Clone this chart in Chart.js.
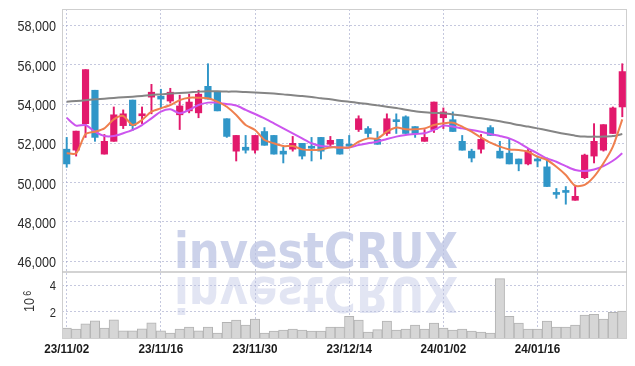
<!DOCTYPE html>
<html>
<head>
<meta charset="utf-8">
<script src="https://cdn.jsdelivr.net/npm/chart.js@4.4.1/dist/chart.umd.min.js"></script>
<style>
  html, body { margin: 0; padding: 0; background: #fff; }
  #wrap { width: 635px; height: 366px; }
</style>
</head>
<body>
<div id="wrap"><canvas id="chart" width="635" height="366"></canvas></div>
<script>
// ── data (daily candles, KRW) ──
const dates = [
  '23/11/02','23/11/03','23/11/06','23/11/07','23/11/08','23/11/09','23/11/10','23/11/13','23/11/14','23/11/15',
  '23/11/16','23/11/17','23/11/20','23/11/21','23/11/22','23/11/23','23/11/24','23/11/27','23/11/28','23/11/29',
  '23/11/30','23/12/01','23/12/04','23/12/05','23/12/06','23/12/07','23/12/08','23/12/11','23/12/12','23/12/13',
  '23/12/14','23/12/15','23/12/18','23/12/19','23/12/20','23/12/21','23/12/22','23/12/26','23/12/27','23/12/28',
  '24/01/02','24/01/03','24/01/04','24/01/05','24/01/08','24/01/09','24/01/10','24/01/11','24/01/12','24/01/15',
  '24/01/16','24/01/17','24/01/18','24/01/19','24/01/22','24/01/23','24/01/24','24/01/25','24/01/26','24/01/29'
];
const opens = [
  51700, 51650, 53000, 54700, 51450, 52100, 52900, 54200, 53400, 54350,
  54400, 54150, 53450, 53650, 53550, 54900, 54600, 53250, 51600, 51800,
  51650, 52600, 52400, 51600, 51700, 52000, 51800, 52300, 51950, 52200,
  51900, 52700, 52750, 52200, 52500, 53150, 53350, 52850, 52100, 52700,
  53300, 53200, 52100, 51600, 51700, 52800, 51600, 51500, 51200, 50950,
  51200, 50800, 49450, 49550, 49100, 50250, 51350, 51650, 52500, 53850
];
const highs = [
  52300, 52620, 55750, 54700, 52450, 53850, 53700, 54200, 53850, 55000,
  54750, 54800, 54450, 54500, 54700, 56050, 54600, 53250, 52400, 52400,
  52400, 52800, 52400, 51800, 52350, 52000, 52300, 52300, 52350, 52200,
  52400, 53400, 52850, 52600, 53500, 53500, 53400, 52850, 52700, 54100,
  53800, 53600, 52400, 51700, 52450, 52900, 52100, 52200, 51200, 51700,
  51350, 51250, 49700, 49800, 49850, 51450, 53000, 52950, 53850, 56050
];
const lows = [
  50780, 51350, 52300, 52100, 51450, 52100, 52750, 52650, 53000, 53500,
  53800, 54050, 52700, 53550, 53300, 54250, 53650, 52300, 51100, 51500,
  51500, 51900, 51450, 51000, 51600, 51200, 51100, 51200, 51800, 51450,
  51850, 52600, 52300, 51950, 52400, 52500, 52500, 52300, 52100, 52550,
  52750, 52600, 51650, 51050, 51500, 52400, 51250, 50950, 50600, 50900,
  50800, 49800, 49200, 48900, 49100, 50200, 51000, 51600, 52500, 53350
];
const closes = [
  50950, 52620, 55750, 52300, 52100, 53450, 53500, 52900, 53500, 54600,
  54250, 54600, 53900, 54100, 54500, 54250, 53650, 52350, 52400, 51650,
  52400, 51900, 51450, 51450, 52000, 51350, 51750, 51600, 52150, 51450,
  51850, 53250, 52500, 51950, 53250, 53100, 52500, 52500, 52300, 54100,
  53600, 52600, 51650, 51250, 52200, 52400, 51250, 50950, 50950, 51600,
  51100, 49800, 49400, 49500, 49300, 51400, 52100, 52950, 53800, 55650
];
const ma5 = [
  51490, 51490, 52470, 52590, 52760, 53220, 53390, 52930, 53190, 53610,
  53780, 53950, 54200, 54320, 54320, 54290, 54120, 53860, 53440, 52930,
  52680, 52170, 52000, 51860, 51860, 51690, 51660, 51690, 51790, 51790,
  51780, 52080, 52250, 52240, 52590, 52800, 52710, 52710, 52760, 52930,
  53020, 53050, 52850, 52590, 52300, 52030, 51830, 51690, 51660, 51570,
  51320, 51150, 50810, 50390, 49840, 49880, 50300, 50980, 51830, 53220
];
const ma20 = [
  53300, 52900, 52930, 52590, 52370, 52370, 52510, 52680, 52930, 53270,
  53610, 53730, 53530, 53700, 53950, 54070, 54070, 54000, 53920, 53700,
  53490, 53270, 53020, 52760, 52510, 52250, 52000, 51860, 51830, 51780,
  51780, 51910, 52000, 52080, 52220, 52340, 52420, 52470, 52510, 52680,
  52900, 52850, 52760, 52680, 52590, 52470, 52370, 52250, 52030, 51740,
  51490, 51230, 51060, 50840, 50640, 50590, 50670, 50840, 51110, 51490
];
const ma60 = [
  54120, 54150, 54190, 54240, 54270, 54310, 54340, 54370, 54410, 54460,
  54490, 54530, 54560, 54590, 54630, 54650, 54650, 54630, 54630, 54610,
  54590, 54560, 54530, 54490, 54440, 54410, 54360, 54290, 54240, 54170,
  54120, 54050, 54000, 53930, 53860, 53800, 53710, 53630, 53580, 53540,
  53530, 53470, 53410, 53340, 53270, 53200, 53120, 53030, 52930, 52850,
  52760, 52660, 52560, 52470, 52390, 52340, 52340, 52340, 52370, 52470
];
// volume in millions of shares
const volumes = [
  0.75, 0.68, 1.08, 1.30, 0.75, 1.38, 0.55, 0.55, 0.70, 1.15,
  0.55, 0.38, 0.68, 0.83, 0.55, 0.83, 0.38, 1.18, 1.35, 0.98,
  1.43, 0.38, 0.53, 0.60, 0.68, 0.60, 0.53, 0.53, 0.83, 0.83,
  1.65, 1.35, 0.45, 0.63, 1.28, 0.60, 0.68, 0.98, 0.68, 1.13,
  0.75, 0.60, 0.68, 0.53, 0.45, 0.38, 4.50, 1.65, 1.13, 0.68,
  0.68, 1.28, 0.83, 0.83, 0.98, 1.73, 1.80, 1.43, 1.95, 2.03
];
const priceTicks = [46000, 48000, 50000, 52000, 54000, 56000, 58000];
const volumeTicks = [2, 4];
const dateTicks = ['23/11/02', '23/11/16', '23/11/30', '23/12/14', '24/01/02', '24/01/16'];

// ── styles ──
const UP = '#e2196c';
const DOWN = '#3096c8';
const GRID = 'rgba(150,155,195,0.55)';
const FONT = '"Liberation Sans", Arial, sans-serif';

const candleColors = closes.map((c, i) => (c >= opens[i] ? UP : DOWN));

// texto estrecho (Arial comprimido ~ "narrow")
function narrowText(ctx, text, x, y, font, sx, align) {
  ctx.save();
  ctx.font = font;
  ctx.textAlign = align;
  ctx.textBaseline = 'alphabetic';
  ctx.translate(x, y);
  ctx.scale(sx, 1);
  ctx.fillText(text, 0, 0);
  ctx.restore();
}

// bordes, separador, marca de agua, etiquetas de ejes
const decor = {
  id: 'decor',
  beforeDatasetsDraw(chart) {
    const ctx = chart.ctx;
    const a = chart.chartArea;
    const sep = chart.scales.y.bottom;
    const base = sep - 4;
    ctx.save();
    ctx.beginPath();
    ctx.rect(a.left, a.top, a.right - a.left, a.bottom - a.top);
    ctx.clip();
    ctx.font = 'bold 50px "DejaVu Sans"';
    ctx.textAlign = 'left';
    ctx.textBaseline = 'alphabetic';
    ctx.fillStyle = 'rgba(185,193,226,0.72)';
    ctx.fillText('investCRUX', a.left + 112, base, 284);
    // reflejo
    ctx.translate(0, 2 * sep + 1);
    ctx.scale(1, -1);
    ctx.fillStyle = 'rgba(185,193,226,0.42)';
    ctx.fillText('investCRUX', a.left + 112, base, 284);
    ctx.restore();
  },
  afterDraw(chart) {
    const ctx = chart.ctx;
    const a = chart.chartArea;
    const { x, y, yv } = chart.scales;
    const sep = y.bottom;
    ctx.save();
    ctx.strokeStyle = '#cfcfcf';
    ctx.lineWidth = 1;
    ctx.strokeRect(a.left + 0.5, a.top + 0.5, a.right - a.left - 1, a.bottom - a.top);
    ctx.lineWidth = 1.5;
    ctx.strokeStyle = '#c4c4c4';
    ctx.beginPath();
    ctx.moveTo(a.left, sep);
    ctx.lineTo(a.right, sep);
    ctx.stroke();

    ctx.fillStyle = '#2a2a2a';
    priceTicks.forEach((v) => {
      narrowText(ctx, v.toLocaleString('en-US'), y.right - 6, y.getPixelForValue(v) + 6,
        '14px ' + FONT, 0.9, 'right');
    });
    volumeTicks.forEach((v) => {
      narrowText(ctx, String(v), yv.right - 6, yv.getPixelForValue(v) + 5,
        '12.5px ' + FONT, 0.9, 'right');
    });
    ctx.fillStyle = '#1a1a1a';
    dateTicks.forEach((d) => {
      narrowText(ctx, d, x.getPixelForValue(dates.indexOf(d)), a.bottom + 15,
        'bold 13px ' + FONT, 0.9, 'center');
    });

    // 10^6
    ctx.fillStyle = '#333';
    ctx.translate(33.5, yv.bottom - 26);
    ctx.rotate(-Math.PI / 2);
    ctx.textAlign = 'left';
    ctx.textBaseline = 'alphabetic';
    ctx.font = '14px ' + FONT;
    ctx.scale(0.9, 1);
    ctx.fillText('10', 0, 0);
    const w = ctx.measureText('10').width;
    ctx.font = '10px ' + FONT;
    ctx.fillText('6', w + 2.5, -3);
    ctx.restore();
  }
};

new Chart(document.getElementById('chart'), {
  type: 'bar',
  data: {
    labels: dates,
    datasets: [
      {
        type: 'line', data: ma5, yAxisID: 'y', order: 0,
        borderColor: '#ef7f4e', borderWidth: 2, pointRadius: 0, tension: 0.25
      },
      {
        type: 'line', data: ma20, yAxisID: 'y', order: 0,
        borderColor: '#cc55ee', borderWidth: 2, pointRadius: 0, tension: 0.25
      },
      {
        type: 'line', data: ma60, yAxisID: 'y', order: 0,
        borderColor: '#858585', borderWidth: 2, pointRadius: 0, tension: 0.25
      },
      {
        // cuerpos
        data: opens.map((o, i) => [o, closes[i]]), yAxisID: 'y', order: 1,
        backgroundColor: candleColors, borderWidth: 0,
        barThickness: 6.5, minBarLength: 2, grouped: false
      },
      {
        // mechas
        data: lows.map((l, i) => [l, highs[i]]), yAxisID: 'y', order: 2,
        backgroundColor: candleColors, borderWidth: 0,
        barThickness: 1.3, grouped: false
      },
      {
        data: volumes, yAxisID: 'yv', order: 3,
        backgroundColor: '#d6d6d6', borderColor: '#b3b3b3', borderWidth: 1,
        barPercentage: 1, categoryPercentage: 1, grouped: false
      }
    ]
  },
  options: {
    responsive: false,
    animation: false,
    devicePixelRatio: 1,
    layout: { padding: { top: 9, right: 8, left: 0, bottom: 0 } },
    plugins: { legend: { display: false }, tooltip: { enabled: false } },
    scales: {
      x: {
        type: 'category',
        offset: true,
        grid: { offset: false, color: GRID, drawTicks: false },
        border: { display: false, dash: [2, 2] },
        ticks: { display: false, autoSkip: false },
        afterBuildTicks: (s) => { s.ticks = s.ticks.filter((t) => dateTicks.includes(dates[t.value])); },
        afterFit: (s) => { s.height = 28; }
      },
      yv: {
        position: 'left', stack: 'panels', stackWeight: 66,
        min: 0, max: 5,
        grid: { color: GRID, drawTicks: false },
        border: { display: false, dash: [2, 2] },
        ticks: { display: false },
        afterBuildTicks: (s) => { s.ticks = volumeTicks.map((v) => ({ value: v })); },
        afterFit: (s) => { s.width = 62; }
      },
      y: {
        position: 'left', stack: 'panels', stackWeight: 263,
        min: 45450, max: 58835,
        grid: { color: GRID, drawTicks: false },
        border: { display: false, dash: [2, 2] },
        ticks: { display: false },
        afterBuildTicks: (s) => { s.ticks = priceTicks.map((v) => ({ value: v })); },
        afterFit: (s) => { s.width = 62; }
      }
    }
  },
  plugins: [decor]
});
</script>
</body>
</html>
